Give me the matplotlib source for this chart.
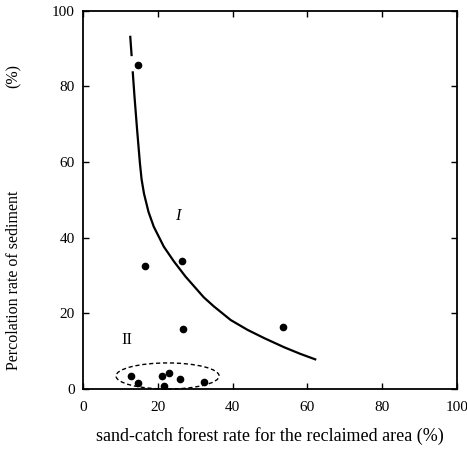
import matplotlib
matplotlib.use("Agg")
import matplotlib.pyplot as plt
from matplotlib.patches import Ellipse

# observed points
pts_x = [14.6, 16.6, 26.4, 26.7, 53.6, 12.7, 14.7, 21.1, 22.9, 21.7, 25.9, 32.4]
pts_y = [85.7, 32.6, 33.7, 15.9, 16.3, 3.4, 1.6, 3.5, 4.1, 0.7, 2.7, 1.8]

# curve (None = the small break next to the top dot)
curve_x = [12.6, 12.99, None, 13.27, 13.75, 14.45, 15.2, 15.65, 16.3, 17.5, 18.9, 21.6,
           24.3, 27.4, 32.3, 35.0, 39.5, 44.0, 48.5, 53.8, 58.0, 62.4]
curve_y = [93.4, 88.0, None, 84.0, 77.3, 68.5, 59.7, 55.4, 51.6, 46.8, 42.9, 37.6,
           33.7, 29.7, 24.2, 21.8, 18.2, 15.6, 13.4, 11.0, 9.3, 7.7]

# dashed group II ellipse: centre, width, height
ell_c = (22.6, 3.4)
ell_w = 27.6
ell_h = 6.9

ticks = [0, 20, 40, 60, 80, 100]

plt.rcParams['font.family'] = ['Liberation Serif', 'DejaVu Serif']

fig = plt.figure(figsize=(4.67, 4.49), dpi=100)
ax = fig.add_axes([0.178, 0.134, 0.800, 0.842])

cx = [float('nan') if v is None else v for v in curve_x]
cy = [float('nan') if v is None else v for v in curve_y]
ax.plot(cx, cy, color='black', lw=1.6, solid_capstyle='butt', solid_joinstyle='round')
ax.plot(pts_x, pts_y, 'o', color='black', markersize=4.5)
ax.add_patch(Ellipse(ell_c, ell_w, ell_h, fill=False, ls=(0, (3, 2)), lw=1.0,
                     color='black', clip_on=False))

ax.text(25.4, 45.6, 'I', fontsize=12, style='italic', ha='center', va='center')
ax.text(11.6, 13.0, 'II', fontsize=12, ha='center', va='center')

ax.set_xlim(0, 100)
ax.set_ylim(0, 100)
ax.set_xticks(ticks)
ax.set_yticks(ticks)
ax.tick_params(direction='in', length=4, width=1, top=True, right=True,
               labelsize=11, pad=6)
ax.tick_params(axis='x', pad=9)
for s in ax.spines.values():
    s.set_linewidth(1.3)

ax.set_xlabel('sand-catch forest rate for the reclaimed area (%)', fontsize=13, labelpad=9)
fig.text(0.030, 1 - 280 / 449, 'Percolation rate of sediment', rotation=90,
         fontsize=11.5, ha='center', va='center')
fig.text(0.030, 1 - 76 / 449, '(%)', rotation=90, fontsize=11.5, ha='center', va='center')

fig.savefig('out.png', dpi=100)
